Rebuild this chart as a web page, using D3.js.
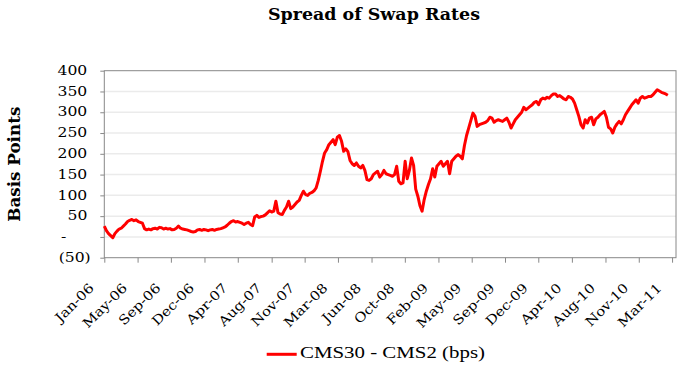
<!DOCTYPE html>
<html>
<head>
<meta charset="utf-8">
<script src="https://cdn.jsdelivr.net/npm/d3@7"></script>
<style>
  body { margin: 0; background: #fff; }
  svg { display: block; }
</style>
</head>
<body>
<svg width="680" height="365"></svg>
<script>
"use strict";

var chartTitle = "Spread of Swap Rates";
var yTitle = "Basis Points";
var seriesName = "CMS30 - CMS2 (bps)";

// weekly observations, first one on this date
var firstWeek = "2006-01-26";
var spread = [
  26, 15, 8, 3, -2, 8, 14, 19, 21, 26,
  31, 37, 40, 42, 39, 41, 37, 35, 33, 20,
  17, 19, 17, 20, 21, 19, 23, 22, 19, 21,
  19, 20, 17, 18, 21, 26, 21, 19, 18, 17,
  15, 13, 12, 13, 17, 18, 16, 18, 17, 15,
  17, 18, 16, 18, 19, 20, 22, 24, 28, 33,
  37, 39, 36, 37, 35, 33, 30, 33, 35, 30,
  27, 48, 52, 47, 49, 50, 53, 58, 63, 60,
  62, 86, 58, 55, 54, 64, 72, 86, 68, 72,
  78, 84, 88, 100, 110, 102, 100, 105, 107, 111,
  118, 136, 158, 182, 202, 210, 222, 228, 234, 222,
  240, 244, 230, 206, 212, 205, 184, 176, 172, 178,
  170, 166, 172, 160, 138, 136, 140, 150, 154, 158,
  144, 150, 160, 152, 150, 148, 146, 150, 170, 134,
  128, 130, 182, 140, 160, 190, 172, 115, 98, 75,
  62, 90, 110, 126, 140, 164, 144, 170, 176, 182,
  170, 176, 182, 152, 182, 188, 194, 198, 194, 188,
  220, 244, 262, 280, 298, 290, 266, 270, 272, 274,
  276, 280, 288, 286, 276, 280, 282, 280, 278, 282,
  286, 276, 262, 272, 282, 288, 294, 300, 312, 306,
  310, 314, 318, 324, 326, 318, 330, 334, 332, 336,
  334, 340, 344, 344, 338, 340, 336, 332, 330, 338,
  336, 332, 322, 306, 290, 270, 262, 282, 274, 286,
  288, 270, 284, 288, 294, 298, 302, 288, 264, 260,
  250, 264, 272, 278, 272, 282, 294, 302, 310, 318,
  324, 330, 322, 334, 338, 334, 336, 338, 338, 342,
  348, 354, 351, 348, 346, 344, 341
];

var xTickDates = [
  "2006-01-26", "2006-05-16", "2006-09-03", "2006-12-23", "2007-04-12",
  "2007-08-02", "2007-11-19", "2008-03-08", "2008-06-27", "2008-10-15",
  "2009-02-03", "2009-05-24", "2009-09-11", "2009-12-30", "2010-04-20",
  "2010-08-09", "2010-11-27", "2011-03-17"
];
var xDomain = ["2006-01-26", "2011-03-30"];

var yTicks = [-50, 0, 50, 100, 150, 200, 250, 300, 350, 400];
var yTickLabels = ["(50)", "-", "50", "100", "150", "200", "250", "300", "350", "400"];

var parseDate = d3.utcParse("%Y-%m-%d"),
    fmtDate = d3.utcFormat("%b-%y");

var svg = d3.select("svg"),
    plotLeft = 104.3, plotRight = 676, plotTop = 70.7, plotBottom = 257.7;

var x = d3.scaleUtc().domain(xDomain.map(parseDate)).range([plotLeft, plotRight]);
var y = d3.scaleLinear().domain([-50, 400]).range([plotBottom, plotTop]);

var start = parseDate(firstWeek);
var points = spread.map(function (v, i) {
  return { date: d3.utcDay.offset(start, 7 * i), value: v };
});

// stretch text a bit wider, like the original picture
function widen(sel, k) {
  sel.each(function () {
    var w = this.getComputedTextLength();
    if (w > 0) {
      this.setAttribute("textLength", w * k);
      this.setAttribute("lengthAdjust", "spacingAndGlyphs");
    }
  });
}

// gridlines
svg.append("g")
  .selectAll("line")
  .data(yTicks.filter(function (d) { return d > -50 && d < 400; }))
  .join("line")
  .attr("x1", plotLeft).attr("x2", plotRight)
  .attr("y1", function (d) { return y(d); })
  .attr("y2", function (d) { return y(d); })
  .attr("stroke", "#ebebeb")
  .attr("stroke-width", 1.5);

// y axis
var yAxis = svg.append("g")
  .attr("transform", "translate(" + plotLeft + ",0)")
  .call(d3.axisLeft(y)
    .tickValues(yTicks)
    .tickSize(4)
    .tickPadding(13)
    .tickFormat(function (d, i) { return yTickLabels[i]; }));
yAxis.select(".domain").remove();
yAxis.selectAll(".tick line").attr("stroke", "#888");
yAxis.selectAll("text")
  .attr("font-family", "DejaVu Serif")
  .attr("font-size", 13)
  .attr("fill", "#000")
  .attr("dy", "0.28em")
  .attr("x", function (d) { return d === -50 ? -13.6 : d === 0 ? -38 : -17; });
widen(yAxis.selectAll("text"), 1.2);

// x axis
var xAxis = svg.append("g")
  .attr("transform", "translate(0," + plotBottom + ")")
  .call(d3.axisBottom(x)
    .tickValues(xTickDates.map(parseDate))
    .tickSize(5)
    .tickFormat(fmtDate));
xAxis.select(".domain").remove();
xAxis.selectAll(".tick line").attr("stroke", "#888");
xAxis.selectAll("text")
  .attr("font-family", "DejaVu Serif")
  .attr("font-size", 13)
  .attr("fill", "#000")
  .attr("text-anchor", "end")
  .attr("x", 0).attr("y", 0).attr("dy", 0)
  .attr("transform", "translate(-10,31) rotate(-45)");
widen(xAxis.selectAll("text"), 1.15);

// plot border
svg.append("rect")
  .attr("x", plotLeft).attr("y", plotTop)
  .attr("width", plotRight - plotLeft).attr("height", plotBottom - plotTop)
  .attr("fill", "none")
  .attr("stroke", "#888")
  .attr("stroke-width", 1);

// the spread
var line = d3.line()
  .x(function (d) { return x(d.date); })
  .y(function (d) { return y(d.value); });

svg.append("path")
  .datum(points)
  .attr("d", line)
  .attr("fill", "none")
  .attr("stroke", "#ff0000")
  .attr("stroke-width", 3)
  .attr("stroke-linejoin", "round");

// titles
svg.append("text")
  .attr("x", 374).attr("y", 19.5)
  .attr("text-anchor", "middle")
  .attr("font-family", "DejaVu Serif")
  .attr("font-weight", "bold")
  .attr("font-size", 16)
  .attr("textLength", 212)
  .attr("lengthAdjust", "spacingAndGlyphs")
  .text(chartTitle);

svg.append("text")
  .attr("transform", "translate(20," + (plotTop + plotBottom) / 2 + ") rotate(-90)")
  .attr("text-anchor", "middle")
  .attr("font-family", "DejaVu Serif")
  .attr("font-weight", "bold")
  .attr("font-size", 16)
  .attr("textLength", 115)
  .attr("lengthAdjust", "spacingAndGlyphs")
  .text(yTitle);

// legend
var legend = svg.append("g");
legend.append("line")
  .attr("x1", 266.7).attr("x2", 296.7)
  .attr("y1", 354.3).attr("y2", 354.3)
  .attr("stroke", "#ff0000")
  .attr("stroke-width", 3);
legend.append("text")
  .attr("x", 300).attr("y", 358)
  .attr("font-family", "Liberation Serif")
  .attr("font-size", 17)
  .attr("textLength", 185)
  .attr("lengthAdjust", "spacingAndGlyphs")
  .text(seriesName);
</script>
</body>
</html>
